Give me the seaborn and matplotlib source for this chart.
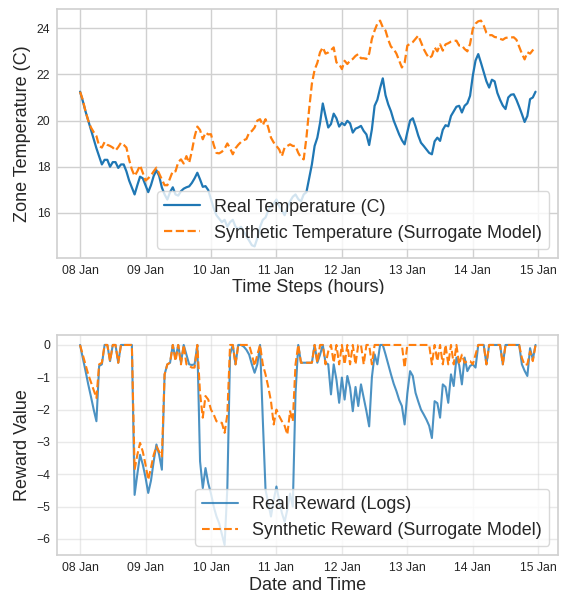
import numpy as np
import pandas as pd
import matplotlib
matplotlib.use("Agg")
import matplotlib.pyplot as plt
import matplotlib.dates as mdates
from matplotlib.patches import Rectangle
import seaborn as sns

# ---------------- data (hourly, starting 08 Jan 00:00) ----------------
start_time = "2024-01-08 00:00"

real_temp = [
    21.25, 20.85, 20.4, 20.0, 19.6, 19.2, 18.8, 18.45, 18.1, 18.3,
    18.3, 18.0, 18.2, 18.2, 17.95, 18.1, 18.1, 17.8, 17.4, 17.1,
    16.8, 17.2, 17.57, 17.5, 17.2, 16.9, 17.2, 17.6, 17.85, 17.6,
    17.1, 16.8, 16.58, 16.9, 17.11, 16.8, 16.75, 16.94, 17.05, 17.11,
    17.15, 17.3, 17.5, 17.74, 17.45, 17.13, 17.16, 16.99, 16.6, 16.2,
    15.9, 15.75, 15.6, 15.7, 15.4, 15.6, 15.7, 15.4, 15.3, 15.4,
    15.2, 15.0, 14.8, 14.6, 14.55, 14.9, 15.4, 15.7, 15.8, 16.1,
    16.3, 16.4, 16.58, 16.3, 16.1, 15.9, 16.2, 16.5, 16.7, 16.8,
    16.6, 16.5, 16.8, 16.9, 17.5, 18.1, 18.9, 19.26, 19.9, 20.74,
    20.2, 19.7, 19.85, 20.3, 20.1, 19.74, 19.9, 19.8, 19.99, 19.88,
    19.48, 19.65, 19.7, 19.77, 19.55, 19.4, 18.94, 19.62, 20.64, 20.9,
    21.4, 21.83, 21.1, 20.7, 20.4, 20.0, 19.7, 19.4, 19.15, 18.97,
    19.5, 20.0, 20.1, 19.75, 19.35, 19.04, 18.9, 18.75, 18.6, 18.54,
    19.1, 19.26, 19.12, 19.6, 19.8, 19.75, 20.2, 20.4, 20.6, 20.64,
    20.35, 20.64, 20.75, 21.07, 21.94, 22.6, 22.88, 22.5, 22.1, 21.7,
    21.43, 21.77, 21.7, 21.2, 20.9, 20.65, 20.5, 21.0, 21.12, 21.14,
    20.9, 20.6, 20.28, 19.94, 20.2, 20.93, 21.0, 21.25,
]

synth_temp = [
    21.25, 20.9, 20.4, 20.0, 19.7, 19.5, 19.33, 18.9, 18.83, 19.07,
    18.95, 18.9, 18.83, 18.7, 18.85, 19.04, 18.95, 18.83, 18.3, 17.88,
    17.6, 17.8, 18.06, 17.74, 17.4, 17.5, 17.62, 17.8, 17.96, 17.7,
    17.45, 17.2, 17.2, 17.5, 17.81, 17.8, 18.2, 18.32, 18.14, 18.46,
    18.17, 18.68, 19.3, 19.74, 19.59, 19.19, 19.48, 19.4, 19.41, 18.95,
    18.6, 18.58, 18.65, 18.78, 19.01, 18.8, 18.54, 18.8, 18.95, 19.07,
    19.15, 19.2, 19.48, 19.55, 19.7, 20.0, 20.06, 19.8, 20.06, 19.7,
    19.26, 19.05, 18.9, 18.75, 18.46, 18.83, 18.9, 18.97, 18.9, 18.9,
    18.6, 18.4, 18.32, 19.26, 20.5, 21.6, 22.2, 22.5, 22.96, 23.17,
    22.9, 22.95, 23.05, 23.17, 22.52, 22.45, 22.23, 22.59, 22.45, 22.6,
    22.67, 22.8, 22.88, 22.7, 22.7, 22.67, 22.9, 23.54, 23.9, 24.2,
    24.33, 24.04, 23.9, 23.5, 23.2, 23.1, 22.9, 22.6, 22.3, 22.5,
    23.25, 23.32, 23.4, 23.54, 23.68, 23.4, 23.1, 22.88, 22.7, 22.8,
    23.17, 23.0, 23.3, 23.03, 23.3, 23.35, 23.42, 23.45, 23.46, 23.25,
    23.25, 23.1, 23.0, 23.32, 23.97, 24.2, 24.3, 24.33, 24.12, 23.8,
    23.7, 23.7, 23.62, 23.6, 23.54, 23.5, 23.58, 23.6, 23.6, 23.61,
    23.5, 23.2, 22.9, 22.65, 22.96, 22.9, 23.05, 23.17,
]

real_reward = [
    0.0, -0.4, -0.8, -1.22, -1.6, -2.0, -2.36, -0.65, -0.6, 0.0,
    0.0, -0.5, 0.0, 0.0, -0.55, 0.0, 0.0, 0.0, 0.0, 0.0,
    -4.64, -4.0, -3.4, -3.7, -4.1, -4.58, -4.2, -3.6, -3.08, -3.4,
    -3.86, -0.91, -0.6, -0.55, 0.0, -0.42, 0.0, -0.55, 0.0, -0.3,
    -0.6, -0.62, -0.6, 0.0, -3.6, -4.43, -3.81, -4.28, -4.6, -5.0,
    -5.3, -5.52, -5.85, -6.19, -4.43, -0.29, 0.0, -0.6, 0.0, 0.0,
    -0.05, -0.15, -0.3, -0.6, -0.86, -0.6, 0.0, -2.3, -4.48, -4.9,
    -5.31, -4.8, -4.38, -4.8, -5.2, -5.47, -5.1, -4.6, -5.0, -1.5,
    0.0, -0.55, -0.55, -0.55, -0.55, -0.55, 0.0, -0.55, -0.3, 0.0,
    -0.55, -0.6, -1.53, -0.6, -1.07, -1.79, -1.01, -1.69, -0.96, -1.32,
    -2.05, -1.3, -1.89, -1.22, -1.64, -2.05, -2.52, -1.0, -0.29, -0.6,
    0.0, 0.0, -0.29, -0.6, -0.91, -1.2, -1.43, -1.7, -1.89, -2.46,
    -1.5, -0.81, -0.96, -1.48, -1.75, -2.0, -2.15, -2.31, -2.5, -2.88,
    -1.74, -1.8, -2.25, -1.22, -1.3, -1.79, -0.91, -1.27, -0.39, -0.62,
    -1.22, -0.39, -0.81, -0.65, -0.6, -0.7, 0.0, 0.0, 0.0, -0.6,
    0.0, 0.0, 0.0, 0.0, 0.0, -0.6, 0.0, 0.0, 0.0, 0.0,
    0.0, 0.0, -0.6, -0.8, -0.96, -0.1, -0.45, 0.0,
]

synth_reward = [
    0.0, -0.3, -0.6, -0.91, -1.15, -1.4, -1.64, -0.6, -0.55, 0.0,
    0.0, -0.5, 0.0, 0.0, -0.55, 0.0, 0.0, 0.0, 0.0, 0.0,
    -3.86, -3.4, -3.03, -3.3, -3.7, -4.17, -3.8, -3.4, -3.14, -3.3,
    -3.45, -0.91, -0.6, -0.55, 0.0, -0.5, 0.0, -0.6, 0.0, -0.6,
    -0.65, -0.7, -0.7, 0.0, -1.5, -2.25, -1.58, -1.69, -2.0, -2.15,
    -2.36, -2.4, -2.41, -2.72, -2.15, 0.0, 0.0, -0.6, 0.0, 0.0,
    0.0, 0.0, 0.0, -0.3, -0.65, -0.3, 0.0, -0.6, -0.91, -1.3,
    -1.74, -2.46, -2.0, -2.2, -2.36, -2.5, -2.77, -2.05, -2.36, -0.6,
    0.0, -0.55, -0.55, -0.55, -0.55, -0.55, 0.0, -0.55, 0.0, 0.0,
    -0.6, -0.2, 0.0, -0.55, 0.0, -0.6, 0.0, -0.6, 0.0, -0.6,
    0.0, -0.6, 0.0, 0.0, -0.6, 0.0, 0.0, -0.6, 0.0, 0.0,
    0.0, 0.0, 0.0, 0.0, 0.0, 0.0, 0.0, 0.0, 0.0, -0.7,
    0.0, 0.0, 0.0, 0.0, 0.0, 0.0, 0.0, 0.0, 0.0, -0.6,
    0.0, -0.5, 0.0, -0.6, 0.0, -0.6, 0.0, -0.6, 0.0, -0.6,
    -0.3, -0.55, -0.5, -0.5, -0.6, -0.3, 0.0, 0.0, 0.0, -0.6,
    0.0, 0.0, 0.0, 0.0, 0.0, -0.6, 0.0, 0.0, 0.0, 0.0,
    0.0, 0.0, -0.4, -0.62, -0.6, -0.2, -0.5, 0.0,
]

temp_labels = ["Real Temperature (C)", "Synthetic Temperature (Surrogate Model)"]
reward_labels = ["Real Reward (Logs)", "Synthetic Reward (Surrogate Model)"]

# ---------------- styling ----------------
sns.set_theme(style="whitegrid")
plt.rcParams["font.family"] = ["Liberation Sans", "DejaVu Sans"]
plt.rcParams["axes.edgecolor"] = "#d0d0d0"
plt.rcParams["grid.color"] = "#d0d0d0"

BLUE = "#1f77b4"
ORANGE = "#ff7f0e"

times = pd.date_range(start_time, periods=len(real_temp), freq="h")
df = pd.DataFrame({
    "time": times,
    "real_temp": real_temp,
    "synth_temp": synth_temp,
    "real_reward": real_reward,
    "synth_reward": synth_reward,
})

fig = plt.figure(figsize=(5.66, 5.94), dpi=100)
ax1 = fig.add_axes([0.1012, 0.5662, 0.8852, 0.4181])
ax2 = fig.add_axes([0.1012, 0.0657, 0.8852, 0.3704])

# Top: temperature
sns.lineplot(data=df, x="time", y="real_temp", ax=ax1, color=BLUE,
             linewidth=1.6, label=temp_labels[0])
sns.lineplot(data=df, x="time", y="synth_temp", ax=ax1, color=ORANGE,
             linewidth=1.6, linestyle="--", label=temp_labels[1])
ax1.set_xlabel("Time Steps (hours)", fontsize=13, labelpad=2)
ax1.set_ylabel("Zone Temperature (C)", fontsize=13, labelpad=4)

# Bottom: reward
sns.lineplot(data=df, x="time", y="real_reward", ax=ax2, color=BLUE,
             linewidth=1.5, alpha=0.8, label=reward_labels[0])
sns.lineplot(data=df, x="time", y="synth_reward", ax=ax2, color=ORANGE,
             linewidth=1.5, linestyle="--", label=reward_labels[1])
ax2.set_xlabel("Date and Time", fontsize=13, labelpad=2)
ax2.set_ylabel("Reward Value", fontsize=13, labelpad=4)
ax2.grid(True, alpha=0.45)

for ax in (ax1, ax2):
    ax.xaxis.set_major_locator(mdates.DayLocator())
    ax.xaxis.set_major_formatter(mdates.DateFormatter("%d %b"))
    ax.tick_params(axis="both", labelsize=8.8, length=0, pad=5,
                   colors="#262626")
    for s in ax.spines.values():
        s.set_color("#d0d0d0")
        s.set_linewidth(1.2)
    ax.legend(loc="lower right", fontsize=12.9, frameon=True,
              framealpha=0.8, edgecolor="#d0d0d0")

ax1.set_yticks([16, 18, 20, 22, 24])
ax2.set_yticks([0, -1, -2, -3, -4, -5, -6])

# white band that clips the bottom of the upper x-label (as in the source image)
fig.patches.append(Rectangle((0, 0.445), 1, 0.06, transform=fig.transFigure,
                             facecolor="white", edgecolor="none", zorder=10))

fig.savefig("out.png", dpi=100)
